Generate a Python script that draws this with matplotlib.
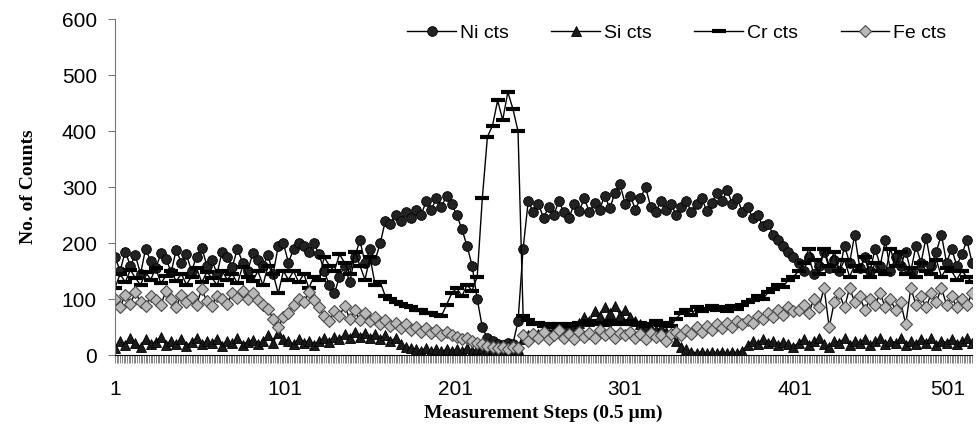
# Perfil de contagens (Ni, Si, Cr, Fe) ao longo dos passos de medição

import numpy as np
import matplotlib.pyplot as plt

# Passos amostrados (1, 4, 7, ..., 505)
steps = np.arange(1, 506, 3)

ni_cts = [175, 150, 185, 160, 178, 145, 190, 168, 155, 182, 172, 148, 188, 165, 180, 150, 176, 192, 160, 170,
          145, 185, 175, 158, 190, 165, 150, 182, 170, 160, 178, 145, 195, 200,
          165, 190, 200, 195, 185, 200, 180, 150, 125, 110, 140, 160, 130, 175, 205, 165, 190, 170, 200, 240,
          235, 250, 240, 255, 245, 260, 250, 275, 260, 280, 265, 285, 270,
          250, 225, 195, 160, 100, 50, 30, 25, 20, 18, 22, 20, 60, 190, 275, 255, 270, 245, 265, 250,
          275, 255, 245, 270, 258, 280, 255, 272, 260, 285, 262, 290, 305,
          270, 285, 260, 280, 300, 265, 255, 275, 260, 270, 250, 265, 275, 255, 270, 280, 258, 272, 290, 275,
          295, 270, 280, 255, 265, 245, 250, 230, 235, 215, 205, 195, 185, 175,
          165, 150, 175, 145, 160, 185, 155, 170, 150, 195, 165, 215, 155, 175, 150, 190, 160, 205, 150, 175,
          160, 185, 150, 195, 165, 210, 160, 185, 215, 165, 190, 160, 180, 205, 165]

si_cts = [13, 25, 18, 30, 22, 15, 28, 20, 24, 32, 18, 26, 20, 29, 16, 24, 30, 19, 25, 22,
          28, 17, 26, 21, 30, 18, 24, 27, 20, 25, 35, 22, 40, 28,
          25, 20, 28, 22, 26, 18, 25, 30, 24, 32, 28, 38, 30, 42, 33, 40, 30, 38, 28, 35,
          25, 30, 20, 15, 12, 10, 8, 12, 8, 10, 7, 10, 8,
          10, 8, 12, 8, 10, 12, 8, 10, 12, 8, 10, 12, 10, 28, 35, 40, 38, 44, 40, 46,
          42, 48, 45, 52, 58, 68, 60, 78, 70, 85, 75, 88, 72,
          80, 68, 60, 55, 50, 48, 45, 48, 42, 40, 25, 15, 10, 6, 4, 6, 3, 5, 4, 6,
          3, 5, 4, 8, 18, 25, 20, 28, 22, 26, 18, 24, 20, 15,
          22, 28, 18, 25, 30, 20, 15, 26, 22, 30, 18, 25, 22, 28, 18, 25, 30, 20, 26, 22,
          30, 18, 25, 20, 28, 22, 30, 18, 26, 22, 28, 20, 25, 30, 22]

cr_cts = [120, 145, 130, 152, 138, 125, 148, 135, 155, 128, 142, 150, 132, 145, 126, 140, 155, 130, 148, 138,
          125, 150, 135, 145, 128, 158, 140, 132, 150, 125, 160, 145, 110, 150,
          135, 150, 130, 145, 120, 140, 135, 175, 160, 150, 180, 165, 145, 185, 160, 135, 175, 125, 130, 105,
          100, 95, 92, 88, 85, 80, 80, 76, 75, 72, 70, 90, 110,
          120, 105, 125, 115, 140, 280, 390, 410, 455, 420, 470, 440, 400, 70, 62, 55, 58, 52, 56, 50,
          55, 52, 56, 54, 58, 55, 60, 56, 58, 54, 60, 56, 58,
          56, 60, 55, 58, 52, 56, 60, 54, 58, 52, 65, 75, 80, 72, 85, 78, 82, 88, 80, 85,
          78, 88, 82, 90, 95, 98, 105, 100, 112, 118, 125, 122, 135, 140,
          150, 165, 190, 170, 145, 190, 160, 185, 150, 170, 140, 160, 150, 175, 140, 165, 150, 145, 190, 160,
          185, 145, 155, 140, 165, 150, 145, 170, 140, 155, 150, 135, 150, 140, 130]

fe_cts = [100, 85, 108, 92, 112, 95, 88, 105, 98, 90, 115, 100, 86, 108, 95, 104, 90, 118, 96, 88,
          106, 100, 92, 110, 102, 115, 100, 110, 98, 90, 82, 65, 50, 68,
          75, 90, 100, 95, 112, 98, 85, 70, 60, 78, 70, 88, 65, 80, 62, 75, 60, 68, 55, 62,
          52, 58, 48, 55, 45, 50, 42, 48, 40, 45, 36, 42, 35,
          32, 28, 30, 25, 22, 20, 16, 14, 12, 15, 10, 14, 12, 35, 25, 38, 30, 42, 28, 36,
          44, 30, 38, 28, 42, 32, 40, 30, 45, 35, 42, 30, 40,
          35, 42, 30, 38, 28, 40, 32, 36, 25, 38, 42, 35, 45, 38, 50, 42, 52, 45, 55, 48,
          58, 50, 60, 55, 62, 58, 70, 65, 75, 68, 80, 72, 85, 78,
          80, 90, 75, 100, 85, 120, 50, 95, 110, 85, 120, 95, 105, 80, 100, 90, 110, 85, 100, 80,
          95, 55, 120, 90, 105, 85, 110, 95, 120, 90, 105, 85, 100, 90, 110]

xtick_pos = [1, 101, 201, 301, 401, 501]
xtick_lab = ['1', '101', '201', '301', '401', '501']

fig = plt.figure(figsize=(9.78, 4.33), dpi=100)
ax = fig.add_axes([0.1176, 0.180, 0.8763, 0.7755])

ax.plot(steps, ni_cts, color='black', lw=1, marker='o', ms=7, mfc='#222222', mec='black', mew=0.6, label='Ni cts')
ax.plot(steps, si_cts, color='black', lw=1, marker='^', ms=6.5, mfc='#1a1a1a', mec='black', mew=0.6, label='Si cts')
ax.plot(steps, cr_cts, color='black', lw=1, marker='_', ms=10, mew=3, mec='black', label='Cr cts')
ax.plot(steps, fe_cts, color='black', lw=1, marker='D', ms=6, mfc='#b8b8b8', mec='#4a4a4a', mew=0.8, label='Fe cts')

ax.set_xlim(1, 505)
ax.set_ylim(0, 600)
ax.set_yticks(range(0, 601, 100))
ax.set_xticks(xtick_pos)
ax.set_xticklabels(xtick_lab)
ax.set_xticks(np.arange(1, 506), minor=True)
ax.get_xticklabels()[-1].set_ha('right')

ax.spines['top'].set_visible(False)
ax.spines['right'].set_visible(False)
ax.spines['left'].set_color('#777777')
ax.spines['left'].set_linewidth(0.8)
ax.spines['bottom'].set_linewidth(0.8)

ax.tick_params(axis='y', direction='out', length=5, width=0.8, color='#777777', pad=8,
               labelsize=15, labelfontfamily='Liberation Sans')
ax.tick_params(axis='x', which='major', direction='out', length=6, width=0.5, color='#555555', pad=12,
               labelsize=15, labelfontfamily='Liberation Sans')
ax.tick_params(axis='x', which='minor', bottom=True, direction='out', length=6, width=0.5, color='#555555')

ax.set_xlabel('Measurement Steps (0.5 µm)', fontsize=14, fontweight='bold', family='Liberation Serif', labelpad=4)
ax.set_ylabel('No. of Counts', fontsize=14, fontweight='bold', family='Liberation Serif', labelpad=18)

fig.legend(loc='center', bbox_to_anchor=(0.692, 0.924), ncol=4, frameon=False,
           prop={'family': 'Liberation Sans', 'size': 14},
           handlelength=2.5, handletextpad=0.2, columnspacing=2.2)

plt.savefig('out.png', dpi=100)
